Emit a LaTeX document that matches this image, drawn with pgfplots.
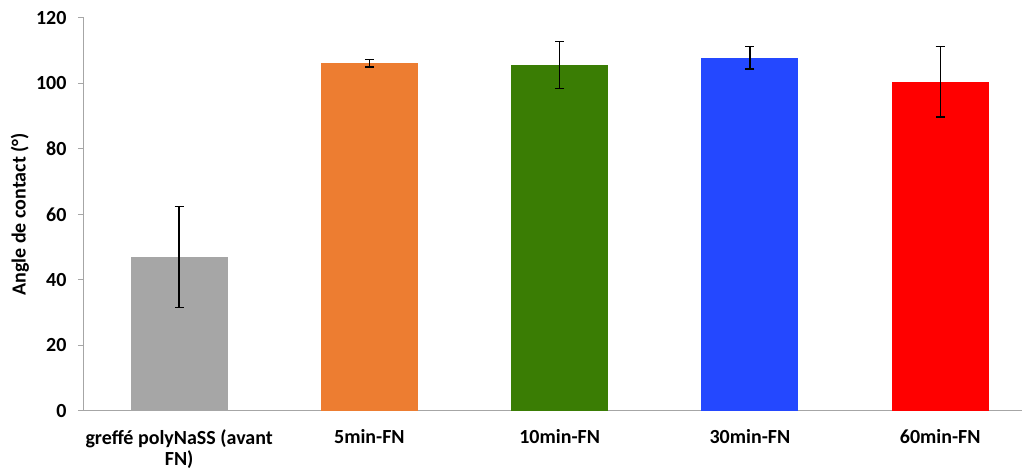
\documentclass[border=0pt]{standalone}
\usepackage{fontspec}
\setmainfont{Carlito}
\usepackage{pgfplots}
\pgfplotsset{compat=1.18}
\definecolor{cgray}{HTML}{A6A6A6}
\definecolor{corange}{HTML}{ED7D31}
\definecolor{cgreen}{HTML}{3A7D04}
\definecolor{cblue}{HTML}{2448FF}
\definecolor{cred}{HTML}{FF0000}
\definecolor{axgray}{HTML}{A6A6A6}
\pgfplotsset{mybar/.style={ybar, bar width=97pt, bar shift=0pt, draw=none,
    error bars/y dir=both, error bars/y explicit,
    error bars/error bar style={black, line width=1.3pt},
    error bars/error mark options={rotate=90, mark size=4.5pt, black, line width=1.3pt}}}
\begin{document}
\begin{tikzpicture}
\useasboundingbox (-84pt,-59pt) rectangle (942pt,411pt);
\begin{axis}[
  at={(0,0)}, anchor=south west,
  scale only axis, width=938pt, height=393pt,
  xmin=-0.5, xmax=4.43, ymin=0, ymax=120,
  ytick={0,20,...,120},
  xtick={0,1,2,3,4},
  xticklabels={{greffé polyNaSS (avant\\FN)},{5min-FN},{10min-FN},{30min-FN},{60min-FN}},
  axis lines*=left,
  axis line style={axgray, line width=1pt},
  ytick style={axgray, line width=1pt},
  tick align=outside,
  major tick length=6pt,
  xtick style={draw=none},
  ticklabel style={font=\fontsize{20}{21}\selectfont\bfseries},
  xticklabel style={align=center, anchor=north, yshift=-9pt},
  yticklabel style={xshift=-8pt},
  /pgf/number format/assume math mode=true,
  ylabel={Angle de contact (°)},
  ylabel style={font=\fontsize{20}{22}\selectfont\bfseries, at={(axis description cs:0,0.5)}, anchor=center, yshift=64pt},
]
\addplot[mybar, fill=cgray] coordinates {(0,47.0) +- (0,15.5)};
\addplot[mybar, fill=corange] coordinates {(1,106.2) +- (0,1.2)};
\addplot[mybar, fill=cgreen] coordinates {(2,105.6) +- (0,7.2)};
\addplot[mybar, fill=cblue] coordinates {(3,107.8) +- (0,3.4)};
\addplot[mybar, fill=cred] coordinates {(4,100.5) +- (0,10.7)};
\end{axis}
\end{tikzpicture}
\end{document}
